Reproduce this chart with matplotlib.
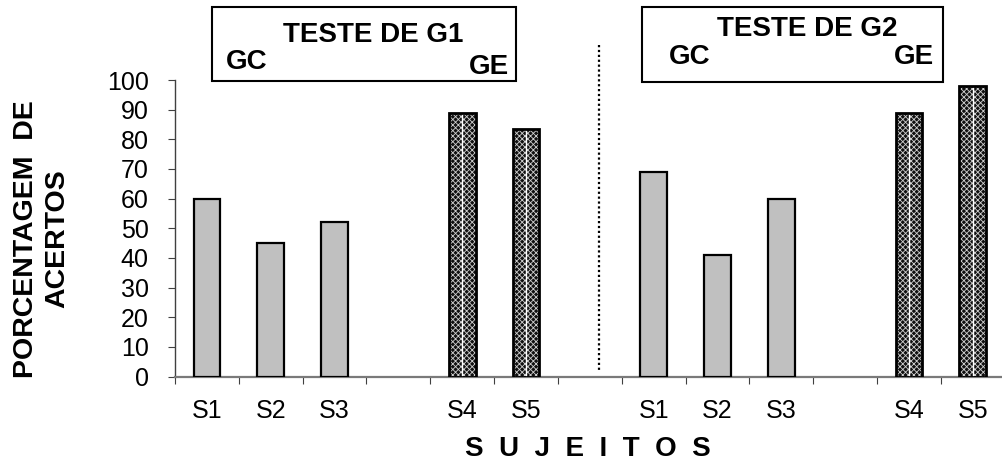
import matplotlib
matplotlib.use("Agg")
import matplotlib.pyplot as plt
from matplotlib.patches import Rectangle
from matplotlib.lines import Line2D
import numpy as np

plt.rcParams["font.family"] = ["Liberation Sans", "DejaVu Sans"]
plt.rcParams["hatch.linewidth"] = 0.6

# Slots along the x axis (empty strings are spacer slots between groups)
slot_labels = ["S1", "S2", "S3", "", "S4", "S5", "",
               "S1", "S2", "S3", "", "S4", "S5"]

# Percentage of correct answers per subject
g1_gc_values = [60, 45, 52]      # TESTE DE G1, control group S1-S3
g1_ge_values = [89, 83.5]        # TESTE DE G1, experimental group S4-S5
g2_gc_values = [69, 41, 60]      # TESTE DE G2, control group S1-S3
g2_ge_values = [89, 98]          # TESTE DE G2, experimental group S4-S5

g1_gc_slots = [0, 1, 2]
g1_ge_slots = [4, 5]
g2_gc_slots = [7, 8, 9]
g2_ge_slots = [11, 12]

W, H = 1003, 465
fig = plt.figure(figsize=(W / 100, H / 100), dpi=100)

def fx(px):
    return px / W

def fy(py):
    return 1 - py / H

ax_left, ax_right, ax_bottom, ax_top = 175, 1004.8, 376.5, 80
ax = fig.add_axes([fx(ax_left), fy(ax_bottom), fx(ax_right - ax_left),
                   (ax_bottom - ax_top) / H])

bar_w = 0.42
gc_x = g1_gc_slots + g2_gc_slots
gc_v = g1_gc_values + g2_gc_values
ge_x = g1_ge_slots + g2_ge_slots
ge_v = g1_ge_values + g2_ge_values

# Control groups: plain light grey bars
ax.bar(gc_x, gc_v, width=bar_w, color="#c0c0c0", edgecolor="black",
       linewidth=1.6, zorder=3)

# Experimental groups: dark checker texture with a black outline
ax.bar(ge_x, ge_v, width=bar_w, color="#101010", edgecolor="#cfcfcf",
       hatch="xxxxxx", linewidth=0, zorder=3)
ax.bar(ge_x, ge_v, width=bar_w, fill=False, edgecolor="black",
       linewidth=2.0, zorder=4)
ax.vlines(ge_x, 0, ge_v, colors="white", linewidth=1.0, zorder=3.5)

ax.set_xlim(-0.5, len(slot_labels) - 0.5)
ax.set_ylim(0, 100)

ax.spines["top"].set_visible(False)
ax.spines["right"].set_visible(False)
ax.spines["left"].set_color("#404040")
ax.spines["left"].set_linewidth(1.0)
ax.spines["bottom"].set_color("#7a7a7a")
ax.spines["bottom"].set_linewidth(1.6)

ax.set_yticks(np.arange(0, 101, 10))
ax.tick_params(axis="y", direction="out", length=5, width=0.8,
               color="#404040", labelsize=18, pad=14)

ax.set_xticks(range(len(slot_labels)))
ax.set_xticklabels(slot_labels)
ax.set_xticks(np.arange(-0.5, len(slot_labels), 1.0), minor=True)
ax.tick_params(axis="x", which="major", length=0, labelsize=18, pad=16)
ax.tick_params(axis="x", which="minor", direction="out", length=5,
               width=0.8, color="#404040")

# Dotted separator between the two tests
ax.add_line(Line2D([fx(599), fx(599)], [fy(45), fy(370)],
                   transform=fig.transFigure, color="black", linewidth=1.6,
                   linestyle=(0, (1, 1.2)), clip_on=False))

# Title boxes
def title_box(x0, x1, y0, y1, title, tpos, gcpos, gepos):
    fig.add_artist(Rectangle((fx(x0), fy(y1)), fx(x1 - x0), (y1 - y0) / H,
                             transform=fig.transFigure, fill=False,
                             edgecolor="black", linewidth=1.5))
    fig.text(fx(tpos[0]), fy(tpos[1]), title, ha="center", va="center",
             fontsize=20, fontweight="bold")
    fig.text(fx(gcpos[0]), fy(gcpos[1]), "GC", ha="center", va="center",
             fontsize=20, fontweight="bold")
    fig.text(fx(gepos[0]), fy(gepos[1]), "GE", ha="center", va="center",
             fontsize=20, fontweight="bold")

title_box(212, 516, 7, 81, "TESTE DE G1", (373, 35), (247, 62), (489, 67))
title_box(642, 943, 7, 82, "TESTE DE G2", (807, 29), (690, 57), (914, 57))

# Axis titles
fig.text(fx(41.5), fy(239), "PORCENTAGEM  DE\nACERTOS", rotation=90,
         ha="center", va="center", multialignment="center",
         fontsize=20.5, fontweight="bold", linespacing=1.25)
fig.text(fx(588), fy(449), "S  U  J  E  I  T  O  S", ha="center",
         va="center", fontsize=20, fontweight="bold")

fig.savefig("out.png", dpi=100)
